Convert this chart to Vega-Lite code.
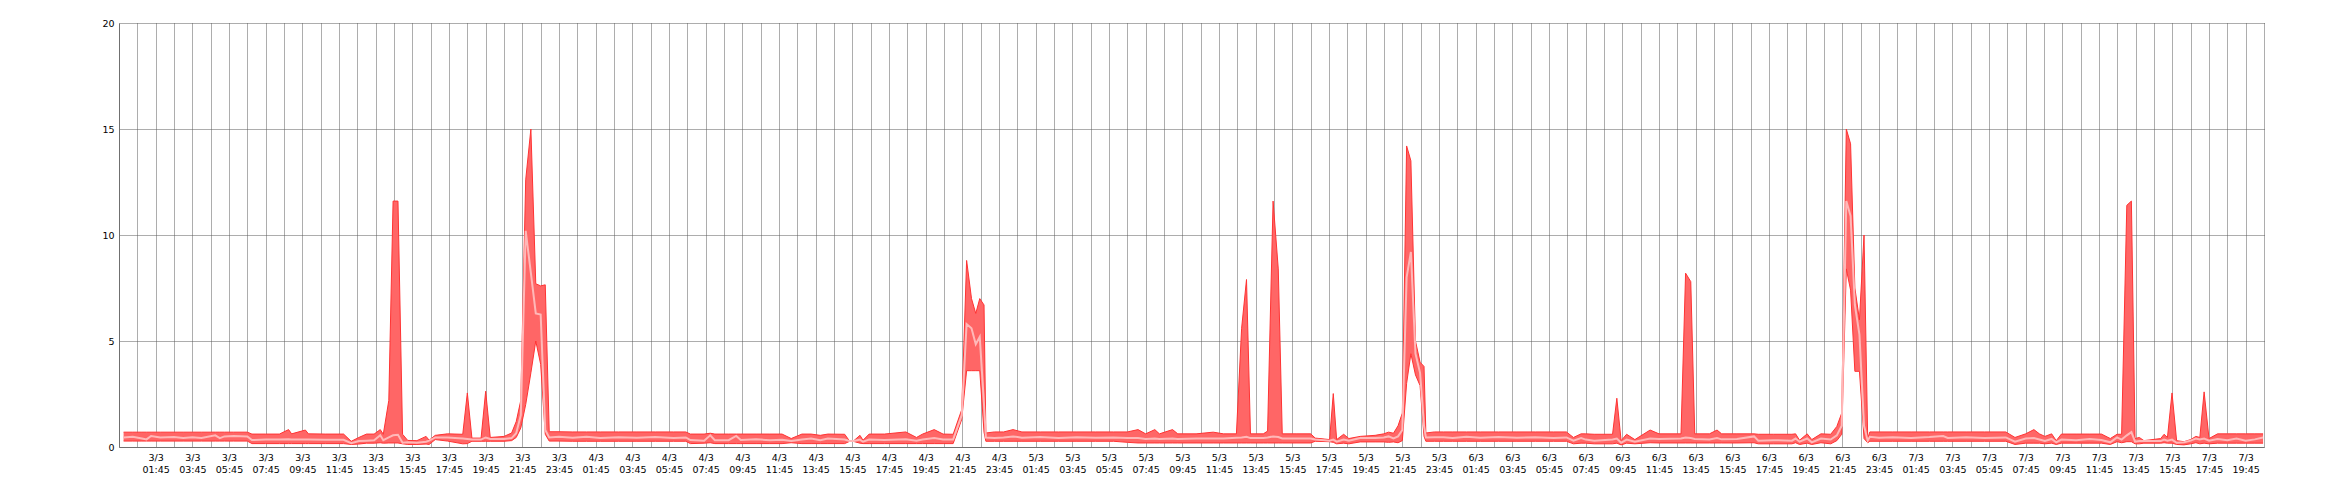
{
  "$schema": "https://vega.github.io/schema/vega-lite/v6.json",
  "width": 2145,
  "height": 424,
  "autosize": {"type": "none"},
  "padding": {"left": 119, "top": 23, "right": 76, "bottom": 53},
  "background": "white",
  "config": {"view": {"stroke": null}},
  "data": {"values": [
    {"d":"2014-03-03T00:00Z","lo":0.28,"av":0.45,"hi":0.7},
    {"d":"2014-03-03T00:30Z","lo":0.28,"av":0.48,"hi":0.7},
    {"d":"2014-03-03T01:00Z","lo":0.28,"av":0.4,"hi":0.7},
    {"d":"2014-03-03T01:15Z","lo":0.28,"av":0.36,"hi":0.7},
    {"d":"2014-03-03T01:30Z","lo":0.28,"av":0.52,"hi":0.7},
    {"d":"2014-03-03T02:00Z","lo":0.28,"av":0.45,"hi":0.7},
    {"d":"2014-03-03T02:45Z","lo":0.28,"av":0.47,"hi":0.7},
    {"d":"2014-03-03T03:15Z","lo":0.28,"av":0.42,"hi":0.7},
    {"d":"2014-03-03T03:45Z","lo":0.28,"av":0.46,"hi":0.7},
    {"d":"2014-03-03T04:15Z","lo":0.28,"av":0.42,"hi":0.7},
    {"d":"2014-03-03T05:00Z","lo":0.28,"av":0.55,"hi":0.7},
    {"d":"2014-03-03T05:15Z","lo":0.28,"av":0.42,"hi":0.7},
    {"d":"2014-03-03T05:30Z","lo":0.28,"av":0.5,"hi":0.7},
    {"d":"2014-03-03T06:00Z","lo":0.28,"av":0.52,"hi":0.7},
    {"d":"2014-03-03T06:45Z","lo":0.28,"av":0.5,"hi":0.7},
    {"d":"2014-03-03T07:00Z","lo":0.16,"av":0.33,"hi":0.61},
    {"d":"2014-03-03T07:45Z","lo":0.16,"av":0.35,"hi":0.61},
    {"d":"2014-03-03T08:30Z","lo":0.16,"av":0.35,"hi":0.61},
    {"d":"2014-03-03T09:00Z","lo":0.16,"av":0.36,"hi":0.82},
    {"d":"2014-03-03T09:10Z","lo":0.16,"av":0.35,"hi":0.62},
    {"d":"2014-03-03T09:55Z","lo":0.16,"av":0.35,"hi":0.8},
    {"d":"2014-03-03T10:05Z","lo":0.16,"av":0.35,"hi":0.62},
    {"d":"2014-03-03T11:00Z","lo":0.16,"av":0.34,"hi":0.61},
    {"d":"2014-03-03T12:00Z","lo":0.16,"av":0.34,"hi":0.61},
    {"d":"2014-03-03T12:25Z","lo":0.12,"av":0.18,"hi":0.27},
    {"d":"2014-03-03T12:50Z","lo":0.14,"av":0.28,"hi":0.45},
    {"d":"2014-03-03T13:15Z","lo":0.18,"av":0.3,"hi":0.61},
    {"d":"2014-03-03T13:40Z","lo":0.18,"av":0.32,"hi":0.61},
    {"d":"2014-03-03T14:00Z","lo":0.2,"av":0.55,"hi":0.82},
    {"d":"2014-03-03T14:10Z","lo":0.18,"av":0.32,"hi":0.6},
    {"d":"2014-03-03T14:28Z","lo":0.19,"av":0.45,"hi":2.2},
    {"d":"2014-03-03T14:42Z","lo":0.19,"av":0.55,"hi":11.6},
    {"d":"2014-03-03T14:58Z","lo":0.19,"av":0.58,"hi":11.6},
    {"d":"2014-03-03T15:13Z","lo":0.15,"av":0.2,"hi":0.6},
    {"d":"2014-03-03T15:30Z","lo":0.12,"av":0.22,"hi":0.31},
    {"d":"2014-03-03T16:00Z","lo":0.12,"av":0.2,"hi":0.3},
    {"d":"2014-03-03T16:30Z","lo":0.14,"av":0.25,"hi":0.5},
    {"d":"2014-03-03T16:40Z","lo":0.12,"av":0.3,"hi":0.32},
    {"d":"2014-03-03T17:00Z","lo":0.35,"av":0.45,"hi":0.55},
    {"d":"2014-03-03T17:40Z","lo":0.28,"av":0.45,"hi":0.62},
    {"d":"2014-03-03T18:30Z","lo":0.15,"av":0.4,"hi":0.6},
    {"d":"2014-03-03T18:45Z","lo":0.16,"av":0.38,"hi":2.55},
    {"d":"2014-03-03T19:00Z","lo":0.27,"av":0.35,"hi":0.42},
    {"d":"2014-03-03T19:30Z","lo":0.27,"av":0.35,"hi":0.42},
    {"d":"2014-03-03T19:45Z","lo":0.27,"av":0.45,"hi":2.63},
    {"d":"2014-03-03T20:00Z","lo":0.27,"av":0.38,"hi":0.45},
    {"d":"2014-03-03T20:45Z","lo":0.27,"av":0.38,"hi":0.5},
    {"d":"2014-03-03T21:10Z","lo":0.3,"av":0.42,"hi":0.66},
    {"d":"2014-03-03T21:25Z","lo":0.45,"av":0.65,"hi":1.2},
    {"d":"2014-03-03T21:40Z","lo":0.9,"av":1.5,"hi":2.2},
    {"d":"2014-03-03T21:56Z","lo":2.0,"av":10.2,"hi":12.6},
    {"d":"2014-03-03T22:13Z","lo":3.5,"av":8.2,"hi":15.0},
    {"d":"2014-03-03T22:29Z","lo":5.0,"av":6.3,"hi":7.7},
    {"d":"2014-03-03T22:45Z","lo":3.9,"av":6.25,"hi":7.6},
    {"d":"2014-03-03T23:00Z","lo":0.6,"av":0.8,"hi":7.65},
    {"d":"2014-03-03T23:13Z","lo":0.28,"av":0.45,"hi":0.72},
    {"d":"2014-03-03T23:45Z","lo":0.28,"av":0.48,"hi":0.72},
    {"d":"2014-03-04T00:30Z","lo":0.27,"av":0.44,"hi":0.71},
    {"d":"2014-03-04T01:15Z","lo":0.27,"av":0.48,"hi":0.71},
    {"d":"2014-03-04T02:00Z","lo":0.27,"av":0.42,"hi":0.71},
    {"d":"2014-03-04T03:00Z","lo":0.27,"av":0.46,"hi":0.71},
    {"d":"2014-03-04T04:00Z","lo":0.27,"av":0.44,"hi":0.71},
    {"d":"2014-03-04T05:00Z","lo":0.27,"av":0.47,"hi":0.71},
    {"d":"2014-03-04T06:00Z","lo":0.27,"av":0.43,"hi":0.71},
    {"d":"2014-03-04T06:40Z","lo":0.27,"av":0.45,"hi":0.71},
    {"d":"2014-03-04T06:55Z","lo":0.16,"av":0.33,"hi":0.61},
    {"d":"2014-03-04T07:40Z","lo":0.18,"av":0.3,"hi":0.61},
    {"d":"2014-03-04T08:00Z","lo":0.2,"av":0.55,"hi":0.65},
    {"d":"2014-03-04T08:15Z","lo":0.16,"av":0.32,"hi":0.61},
    {"d":"2014-03-04T09:00Z","lo":0.16,"av":0.32,"hi":0.61},
    {"d":"2014-03-04T09:25Z","lo":0.16,"av":0.52,"hi":0.61},
    {"d":"2014-03-04T09:40Z","lo":0.16,"av":0.33,"hi":0.61},
    {"d":"2014-03-04T10:30Z","lo":0.16,"av":0.36,"hi":0.61},
    {"d":"2014-03-04T11:15Z","lo":0.16,"av":0.32,"hi":0.61},
    {"d":"2014-03-04T11:55Z","lo":0.16,"av":0.34,"hi":0.61},
    {"d":"2014-03-04T12:25Z","lo":0.2,"av":0.28,"hi":0.4},
    {"d":"2014-03-04T13:00Z","lo":0.16,"av":0.35,"hi":0.61},
    {"d":"2014-03-04T13:30Z","lo":0.16,"av":0.4,"hi":0.61},
    {"d":"2014-03-04T14:00Z","lo":0.16,"av":0.32,"hi":0.55},
    {"d":"2014-03-04T14:25Z","lo":0.16,"av":0.4,"hi":0.61},
    {"d":"2014-03-04T15:20Z","lo":0.16,"av":0.35,"hi":0.6},
    {"d":"2014-03-04T15:35Z","lo":0.26,"av":0.28,"hi":0.3},
    {"d":"2014-03-04T15:50Z","lo":0.26,"av":0.28,"hi":0.3},
    {"d":"2014-03-04T16:10Z","lo":0.18,"av":0.35,"hi":0.55},
    {"d":"2014-03-04T16:20Z","lo":0.16,"av":0.25,"hi":0.32},
    {"d":"2014-03-04T16:40Z","lo":0.16,"av":0.35,"hi":0.61},
    {"d":"2014-03-04T17:30Z","lo":0.16,"av":0.33,"hi":0.61},
    {"d":"2014-03-04T18:40Z","lo":0.16,"av":0.37,"hi":0.71},
    {"d":"2014-03-04T19:15Z","lo":0.16,"av":0.3,"hi":0.45},
    {"d":"2014-03-04T19:35Z","lo":0.16,"av":0.35,"hi":0.61},
    {"d":"2014-03-04T20:13Z","lo":0.16,"av":0.42,"hi":0.82},
    {"d":"2014-03-04T20:42Z","lo":0.16,"av":0.35,"hi":0.61},
    {"d":"2014-03-04T21:15Z","lo":0.16,"av":0.35,"hi":0.6},
    {"d":"2014-03-04T21:43Z","lo":1.3,"av":1.5,"hi":1.76},
    {"d":"2014-03-04T21:59Z","lo":3.6,"av":5.8,"hi":8.8},
    {"d":"2014-03-04T22:15Z","lo":3.6,"av":5.6,"hi":7.0},
    {"d":"2014-03-04T22:29Z","lo":3.6,"av":4.85,"hi":6.3},
    {"d":"2014-03-04T22:42Z","lo":3.6,"av":5.2,"hi":7.0},
    {"d":"2014-03-04T22:56Z","lo":0.7,"av":2.0,"hi":6.7},
    {"d":"2014-03-04T23:02Z","lo":0.27,"av":0.45,"hi":0.66},
    {"d":"2014-03-04T23:30Z","lo":0.27,"av":0.42,"hi":0.71},
    {"d":"2014-03-05T00:00Z","lo":0.27,"av":0.45,"hi":0.71},
    {"d":"2014-03-05T00:31Z","lo":0.27,"av":0.5,"hi":0.82},
    {"d":"2014-03-05T01:00Z","lo":0.27,"av":0.44,"hi":0.71},
    {"d":"2014-03-05T02:00Z","lo":0.27,"av":0.47,"hi":0.71},
    {"d":"2014-03-05T03:00Z","lo":0.27,"av":0.43,"hi":0.71},
    {"d":"2014-03-05T04:00Z","lo":0.27,"av":0.46,"hi":0.71},
    {"d":"2014-03-05T05:00Z","lo":0.27,"av":0.44,"hi":0.71},
    {"d":"2014-03-05T06:00Z","lo":0.27,"av":0.45,"hi":0.71},
    {"d":"2014-03-05T06:45Z","lo":0.22,"av":0.42,"hi":0.71},
    {"d":"2014-03-05T07:20Z","lo":0.19,"av":0.42,"hi":0.82},
    {"d":"2014-03-05T07:45Z","lo":0.19,"av":0.38,"hi":0.62},
    {"d":"2014-03-05T08:15Z","lo":0.19,"av":0.4,"hi":0.82},
    {"d":"2014-03-05T08:30Z","lo":0.19,"av":0.38,"hi":0.62},
    {"d":"2014-03-05T09:13Z","lo":0.19,"av":0.4,"hi":0.82},
    {"d":"2014-03-05T09:30Z","lo":0.19,"av":0.38,"hi":0.62},
    {"d":"2014-03-05T10:30Z","lo":0.19,"av":0.4,"hi":0.62},
    {"d":"2014-03-05T11:26Z","lo":0.19,"av":0.4,"hi":0.7},
    {"d":"2014-03-05T12:00Z","lo":0.19,"av":0.4,"hi":0.62},
    {"d":"2014-03-05T12:42Z","lo":0.19,"av":0.44,"hi":0.62},
    {"d":"2014-03-05T12:59Z","lo":0.19,"av":0.45,"hi":5.6},
    {"d":"2014-03-05T13:15Z","lo":0.19,"av":0.48,"hi":7.9},
    {"d":"2014-03-05T13:28Z","lo":0.19,"av":0.42,"hi":0.62},
    {"d":"2014-03-05T14:10Z","lo":0.19,"av":0.42,"hi":0.62},
    {"d":"2014-03-05T14:24Z","lo":0.19,"av":0.45,"hi":0.75},
    {"d":"2014-03-05T14:42Z","lo":0.19,"av":0.5,"hi":11.6},
    {"d":"2014-03-05T14:59Z","lo":0.19,"av":0.47,"hi":8.4},
    {"d":"2014-03-05T15:12Z","lo":0.19,"av":0.4,"hi":0.62},
    {"d":"2014-03-05T16:00Z","lo":0.19,"av":0.4,"hi":0.62},
    {"d":"2014-03-05T16:45Z","lo":0.19,"av":0.4,"hi":0.62},
    {"d":"2014-03-05T17:00Z","lo":0.27,"av":0.35,"hi":0.42},
    {"d":"2014-03-05T17:47Z","lo":0.25,"av":0.3,"hi":0.35},
    {"d":"2014-03-05T17:59Z","lo":0.22,"av":0.35,"hi":2.52},
    {"d":"2014-03-05T18:10Z","lo":0.15,"av":0.25,"hi":0.35},
    {"d":"2014-03-05T18:33Z","lo":0.18,"av":0.35,"hi":0.6},
    {"d":"2014-03-05T18:50Z","lo":0.15,"av":0.3,"hi":0.4},
    {"d":"2014-03-05T19:27Z","lo":0.24,"av":0.42,"hi":0.5},
    {"d":"2014-03-05T20:16Z","lo":0.24,"av":0.42,"hi":0.55},
    {"d":"2014-03-05T20:44Z","lo":0.24,"av":0.45,"hi":0.62},
    {"d":"2014-03-05T21:00Z","lo":0.22,"av":0.5,"hi":0.7},
    {"d":"2014-03-05T21:16Z","lo":0.24,"av":0.4,"hi":0.65},
    {"d":"2014-03-05T21:31Z","lo":0.2,"av":0.5,"hi":1.0},
    {"d":"2014-03-05T21:45Z","lo":0.3,"av":0.8,"hi":1.6},
    {"d":"2014-03-05T21:59Z","lo":3.0,"av":8.0,"hi":14.2},
    {"d":"2014-03-05T22:13Z","lo":4.4,"av":9.2,"hi":13.5},
    {"d":"2014-03-05T22:28Z","lo":3.4,"av":4.4,"hi":5.0},
    {"d":"2014-03-05T22:43Z","lo":2.9,"av":3.5,"hi":4.0},
    {"d":"2014-03-05T22:56Z","lo":0.5,"av":1.0,"hi":3.8},
    {"d":"2014-03-05T23:02Z","lo":0.27,"av":0.45,"hi":0.66},
    {"d":"2014-03-05T23:30Z","lo":0.27,"av":0.46,"hi":0.71},
    {"d":"2014-03-06T00:00Z","lo":0.27,"av":0.46,"hi":0.71},
    {"d":"2014-03-06T00:30Z","lo":0.27,"av":0.42,"hi":0.71},
    {"d":"2014-03-06T01:15Z","lo":0.27,"av":0.48,"hi":0.71},
    {"d":"2014-03-06T02:00Z","lo":0.27,"av":0.44,"hi":0.71},
    {"d":"2014-03-06T03:00Z","lo":0.27,"av":0.47,"hi":0.71},
    {"d":"2014-03-06T04:00Z","lo":0.27,"av":0.44,"hi":0.71},
    {"d":"2014-03-06T05:00Z","lo":0.27,"av":0.46,"hi":0.71},
    {"d":"2014-03-06T06:00Z","lo":0.27,"av":0.43,"hi":0.71},
    {"d":"2014-03-06T06:42Z","lo":0.27,"av":0.45,"hi":0.71},
    {"d":"2014-03-06T07:05Z","lo":0.15,"av":0.3,"hi":0.45},
    {"d":"2014-03-06T07:30Z","lo":0.18,"av":0.42,"hi":0.62},
    {"d":"2014-03-06T07:45Z","lo":0.18,"av":0.35,"hi":0.62},
    {"d":"2014-03-06T08:13Z","lo":0.15,"av":0.3,"hi":0.6},
    {"d":"2014-03-06T09:13Z","lo":0.15,"av":0.35,"hi":0.6},
    {"d":"2014-03-06T09:27Z","lo":0.18,"av":0.4,"hi":2.3},
    {"d":"2014-03-06T09:41Z","lo":0.1,"av":0.2,"hi":0.3},
    {"d":"2014-03-06T09:59Z","lo":0.18,"av":0.35,"hi":0.6},
    {"d":"2014-03-06T10:26Z","lo":0.15,"av":0.25,"hi":0.35},
    {"d":"2014-03-06T11:16Z","lo":0.2,"av":0.4,"hi":0.8},
    {"d":"2014-03-06T11:45Z","lo":0.19,"av":0.38,"hi":0.62},
    {"d":"2014-03-06T12:57Z","lo":0.19,"av":0.4,"hi":0.62},
    {"d":"2014-03-06T13:12Z","lo":0.19,"av":0.45,"hi":8.2},
    {"d":"2014-03-06T13:29Z","lo":0.19,"av":0.42,"hi":7.8},
    {"d":"2014-03-06T13:42Z","lo":0.19,"av":0.38,"hi":0.62},
    {"d":"2014-03-06T14:30Z","lo":0.19,"av":0.35,"hi":0.62},
    {"d":"2014-03-06T14:55Z","lo":0.19,"av":0.42,"hi":0.8},
    {"d":"2014-03-06T15:10Z","lo":0.19,"av":0.36,"hi":0.62},
    {"d":"2014-03-06T16:00Z","lo":0.19,"av":0.38,"hi":0.62},
    {"d":"2014-03-06T16:56Z","lo":0.2,"av":0.5,"hi":0.62},
    {"d":"2014-03-06T17:10Z","lo":0.15,"av":0.3,"hi":0.6},
    {"d":"2014-03-06T18:00Z","lo":0.15,"av":0.32,"hi":0.6},
    {"d":"2014-03-06T19:00Z","lo":0.15,"av":0.3,"hi":0.6},
    {"d":"2014-03-06T19:12Z","lo":0.2,"av":0.4,"hi":0.62},
    {"d":"2014-03-06T19:25Z","lo":0.12,"av":0.25,"hi":0.32},
    {"d":"2014-03-06T19:50Z","lo":0.18,"av":0.4,"hi":0.62},
    {"d":"2014-03-06T20:05Z","lo":0.12,"av":0.22,"hi":0.35},
    {"d":"2014-03-06T20:35Z","lo":0.2,"av":0.4,"hi":0.62},
    {"d":"2014-03-06T21:07Z","lo":0.15,"av":0.35,"hi":0.6},
    {"d":"2014-03-06T21:27Z","lo":0.3,"av":0.55,"hi":0.97},
    {"d":"2014-03-06T21:43Z","lo":0.6,"av":1.0,"hi":1.6},
    {"d":"2014-03-06T21:58Z","lo":8.4,"av":11.6,"hi":15.0},
    {"d":"2014-03-06T22:12Z","lo":7.4,"av":10.9,"hi":14.3},
    {"d":"2014-03-06T22:26Z","lo":3.57,"av":6.7,"hi":7.5},
    {"d":"2014-03-06T22:41Z","lo":3.57,"av":5.3,"hi":6.0},
    {"d":"2014-03-06T22:56Z","lo":0.4,"av":1.0,"hi":10.0},
    {"d":"2014-03-06T23:08Z","lo":0.2,"av":0.3,"hi":0.4},
    {"d":"2014-03-06T23:15Z","lo":0.27,"av":0.48,"hi":0.71},
    {"d":"2014-03-06T23:45Z","lo":0.27,"av":0.44,"hi":0.71},
    {"d":"2014-03-07T00:30Z","lo":0.27,"av":0.46,"hi":0.71},
    {"d":"2014-03-07T01:30Z","lo":0.27,"av":0.43,"hi":0.71},
    {"d":"2014-03-07T02:30Z","lo":0.27,"av":0.47,"hi":0.71},
    {"d":"2014-03-07T03:15Z","lo":0.27,"av":0.52,"hi":0.71},
    {"d":"2014-03-07T03:30Z","lo":0.27,"av":0.43,"hi":0.71},
    {"d":"2014-03-07T04:30Z","lo":0.27,"av":0.46,"hi":0.71},
    {"d":"2014-03-07T05:30Z","lo":0.27,"av":0.43,"hi":0.71},
    {"d":"2014-03-07T06:40Z","lo":0.27,"av":0.45,"hi":0.71},
    {"d":"2014-03-07T07:10Z","lo":0.12,"av":0.25,"hi":0.45},
    {"d":"2014-03-07T07:45Z","lo":0.18,"av":0.4,"hi":0.62},
    {"d":"2014-03-07T08:12Z","lo":0.18,"av":0.42,"hi":0.82},
    {"d":"2014-03-07T08:30Z","lo":0.18,"av":0.35,"hi":0.62},
    {"d":"2014-03-07T08:48Z","lo":0.15,"av":0.28,"hi":0.5},
    {"d":"2014-03-07T09:10Z","lo":0.18,"av":0.38,"hi":0.62},
    {"d":"2014-03-07T09:25Z","lo":0.12,"av":0.22,"hi":0.3},
    {"d":"2014-03-07T09:42Z","lo":0.18,"av":0.35,"hi":0.61},
    {"d":"2014-03-07T10:30Z","lo":0.18,"av":0.32,"hi":0.61},
    {"d":"2014-03-07T11:15Z","lo":0.18,"av":0.38,"hi":0.61},
    {"d":"2014-03-07T11:53Z","lo":0.18,"av":0.33,"hi":0.61},
    {"d":"2014-03-07T12:22Z","lo":0.12,"av":0.22,"hi":0.4},
    {"d":"2014-03-07T12:44Z","lo":0.25,"av":0.45,"hi":0.6},
    {"d":"2014-03-07T12:59Z","lo":0.2,"av":0.35,"hi":0.6},
    {"d":"2014-03-07T13:16Z","lo":0.25,"av":0.55,"hi":11.4},
    {"d":"2014-03-07T13:31Z","lo":0.25,"av":0.7,"hi":11.6},
    {"d":"2014-03-07T13:43Z","lo":0.15,"av":0.25,"hi":0.4},
    {"d":"2014-03-07T13:57Z","lo":0.15,"av":0.28,"hi":0.45},
    {"d":"2014-03-07T14:12Z","lo":0.18,"av":0.28,"hi":0.3},
    {"d":"2014-03-07T15:07Z","lo":0.18,"av":0.28,"hi":0.4},
    {"d":"2014-03-07T15:18Z","lo":0.2,"av":0.35,"hi":0.6},
    {"d":"2014-03-07T15:29Z","lo":0.18,"av":0.3,"hi":0.45},
    {"d":"2014-03-07T15:44Z","lo":0.18,"av":0.35,"hi":2.55},
    {"d":"2014-03-07T15:59Z","lo":0.12,"av":0.2,"hi":0.3},
    {"d":"2014-03-07T16:23Z","lo":0.1,"av":0.22,"hi":0.25},
    {"d":"2014-03-07T16:45Z","lo":0.15,"av":0.3,"hi":0.35},
    {"d":"2014-03-07T17:02Z","lo":0.2,"av":0.4,"hi":0.5},
    {"d":"2014-03-07T17:15Z","lo":0.15,"av":0.35,"hi":0.45},
    {"d":"2014-03-07T17:29Z","lo":0.18,"av":0.4,"hi":2.6},
    {"d":"2014-03-07T17:45Z","lo":0.15,"av":0.3,"hi":0.4},
    {"d":"2014-03-07T18:13Z","lo":0.18,"av":0.38,"hi":0.62},
    {"d":"2014-03-07T18:45Z","lo":0.18,"av":0.32,"hi":0.62},
    {"d":"2014-03-07T19:15Z","lo":0.18,"av":0.4,"hi":0.62},
    {"d":"2014-03-07T19:45Z","lo":0.18,"av":0.3,"hi":0.62},
    {"d":"2014-03-07T20:15Z","lo":0.18,"av":0.36,"hi":0.62},
    {"d":"2014-03-07T20:42Z","lo":0.18,"av":0.45,"hi":0.62}
  ]},
  "encoding": {
    "x": {
      "field": "d",
      "type": "temporal",
      "scale": {"type": "utc", "domain": [1393803900000, 1394225100000]},
      "axis": {
        "title": null,
        "values": [1393807500000,1393811100000,1393814700000,1393818300000,1393821900000,1393825500000,1393829100000,1393832700000,1393836300000,1393839900000,1393843500000,1393847100000,1393850700000,1393854300000,1393857900000,1393861500000,1393865100000,1393868700000,1393872300000,1393875900000,1393879500000,1393883100000,1393886700000,1393890300000,1393893900000,1393897500000,1393901100000,1393904700000,1393908300000,1393911900000,1393915500000,1393919100000,1393922700000,1393926300000,1393929900000,1393933500000,1393937100000,1393940700000,1393944300000,1393947900000,1393951500000,1393955100000,1393958700000,1393962300000,1393965900000,1393969500000,1393973100000,1393976700000,1393980300000,1393983900000,1393987500000,1393991100000,1393994700000,1393998300000,1394001900000,1394005500000,1394009100000,1394012700000,1394016300000,1394019900000,1394023500000,1394027100000,1394030700000,1394034300000,1394037900000,1394041500000,1394045100000,1394048700000,1394052300000,1394055900000,1394059500000,1394063100000,1394066700000,1394070300000,1394073900000,1394077500000,1394081100000,1394084700000,1394088300000,1394091900000,1394095500000,1394099100000,1394102700000,1394106300000,1394109900000,1394113500000,1394117100000,1394120700000,1394124300000,1394127900000,1394131500000,1394135100000,1394138700000,1394142300000,1394145900000,1394149500000,1394153100000,1394156700000,1394160300000,1394163900000,1394167500000,1394171100000,1394174700000,1394178300000,1394181900000,1394185500000,1394189100000,1394192700000,1394196300000,1394199900000,1394203500000,1394207100000,1394210700000,1394214300000,1394217900000,1394221500000,1394225100000],
        "labelExpr": "utchours(datum.value) % 2 == 1 ? [utcFormat(datum.value, '%-d/%-m'), utcFormat(datum.value, '%H:%M')] : ''",
        "grid": true,
        "gridColor": "#5a5a5a",
        "gridDash": [1, 1],
        "gridWidth": 1,
        "ticks": false,
        "domain": true,
        "domainColor": "#707070",
        "domainWidth": 1,
        "labelFont": "DejaVu Sans",
        "labelFontSize": 9.5,
        "labelColor": "#000000",
        "labelPadding": 5,
        "labelLineHeight": 12,
        "labelBaseline": "top",
        "labelOverlap": false,
        "labelFlush": false,
        "labelBound": false
      }
    }
  },
  "layer": [
    {
      "mark": {"type": "area", "color": "#ff6666", "opacity": 1},
      "encoding": {
        "y": {
          "field": "lo",
          "type": "quantitative",
          "scale": {"domain": [0, 20], "nice": false},
          "axis": {
            "title": null,
            "values": [0, 5, 10, 15, 20],
            "grid": true,
            "gridColor": "#5a5a5a",
            "gridDash": [1, 1],
            "gridWidth": 1,
            "ticks": false,
            "domain": true,
            "domainColor": "#707070",
            "domainWidth": 1,
            "labelFont": "DejaVu Sans",
            "labelFontSize": 9.5,
            "labelColor": "#000000",
            "labelPadding": 5,
            "labelFlush": false,
            "labelBound": false
          }
        },
        "y2": {"field": "hi"}
      }
    },
    {
      "mark": {"type": "line", "color": "#ff3333", "strokeWidth": 1},
      "encoding": {"y": {"field": "hi", "type": "quantitative"}}
    },
    {
      "mark": {"type": "line", "color": "#ff3333", "strokeWidth": 1},
      "encoding": {"y": {"field": "lo", "type": "quantitative"}}
    },
    {
      "mark": {"type": "line", "color": "#ffb8b8", "strokeWidth": 2},
      "encoding": {"y": {"field": "av", "type": "quantitative"}}
    }
  ]
}
